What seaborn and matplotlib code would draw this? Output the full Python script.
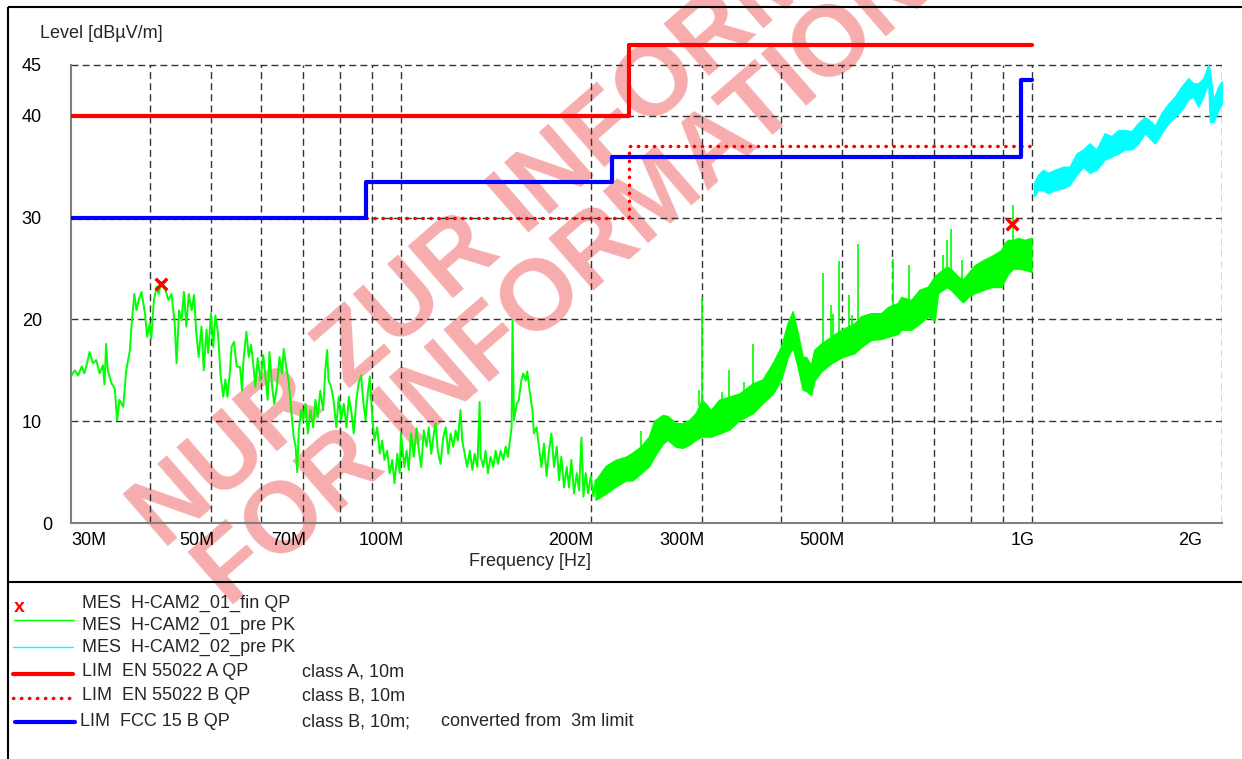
import matplotlib
matplotlib.use("Agg")
import matplotlib.pyplot as plt
import matplotlib.transforms as mtransforms
from matplotlib.patches import Rectangle
from matplotlib.ticker import NullLocator
import seaborn as sns

# ---- data (frequencies in MHz, levels in dBuV/m) ----
# pre-scan PK, 30 - 207 MHz (single noisy trace)
green_f = [30.0, 30.4, 30.8, 31.2, 31.5, 31.9, 32.1, 32.5, 32.9, 33.3,
           33.7, 33.9, 34.1, 34.3, 34.8, 35.2, 35.5, 35.8, 36.3, 36.7,
           37.2, 37.4, 37.8, 38.1, 38.4, 38.8, 39.3, 39.6, 40.0, 40.2,
           40.6, 41.0, 41.3, 41.7, 42.3, 42.8, 43.3, 43.8, 44.1, 44.5,
           44.9, 45.3, 45.7, 46.1, 46.6, 47.0, 47.4, 47.8, 48.3, 48.7,
           49.2, 49.5, 50.0, 50.4, 50.8, 51.3, 51.8, 52.3, 52.7, 53.1,
           53.6, 53.9, 54.4, 54.9,
           55.6, 56.0, 56.3, 56.9, 57.4, 57.9, 58.4, 58.8, 59.3, 59.9,
           60.5, 61.0, 61.5, 61.9, 62.5, 63.0, 63.6, 64.2, 64.8, 65.2,
           65.8, 66.4, 67.0, 67.6, 68.1, 68.5, 68.9, 69.5, 70.0, 70.6,
           71.2, 71.9, 72.6, 73.2, 73.8, 74.5, 75.3, 75.9, 76.4, 76.8,
           77.5, 78.2, 79.0, 79.7, 80.4, 81.2, 82.0, 82.7, 83.4, 84.2,
           85.0, 85.7, 86.5, 87.1, 87.9, 88.6, 89.3, 90.0, 90.8, 91.7,
           92.6, 93.4, 94.2, 95.1, 96.0, 96.9, 97.7, 98.7, 99.6, 100.0,
           101.3, 102.1, 102.9, 103.8, 104.8, 105.9, 106.8, 107.7, 108.7, 109.8,
           110.7, 111.7, 112.8, 113.5, 114.4, 115.6, 116.7, 117.8, 118.9, 119.9,
           121.1, 122.1, 123.1, 124.3, 125.1, 126.2, 127.4, 128.6, 129.8, 130.9,
           132.2, 133.3, 133.8, 135.1, 136.2, 137.4, 138.7, 140.1, 141.3, 142.5,
           143.9, 145.3, 146.6, 147.8, 148.9, 149.8, 150.3, 151.1, 152.6, 153.8,
           155.2, 156.3, 157.7, 158.6, 160.2, 161.6, 162.5, 164.1, 165.5, 167.0,
           168.6, 170.2, 171.7, 173.2, 174.9, 176.6, 178.1, 179.6, 181.4, 183.2,
           184.7, 186.3, 188.1, 190.0, 191.6, 193.3, 194.7, 196.3, 198.0, 200.0,
           201.9, 203.6, 205.4, 206.9]
green_db = [14.4, 15.0, 14.5, 15.4, 14.7, 16.0, 16.8, 15.7, 16.0, 14.7,
            15.5, 13.6, 17.6, 15.0, 13.7, 13.2, 10.1, 12.1, 11.4, 15.0,
            17.0, 19.3, 22.5, 20.9, 21.9, 22.7, 20.6, 18.3, 19.6, 18.1,
            21.9, 23.2, 22.5, 23.7, 23.0, 21.9, 22.5, 19.6, 15.7, 20.9,
            19.9, 22.7, 19.3, 22.5, 20.9, 22.4, 18.6, 16.3, 19.3, 15.0,
            19.0, 16.7, 20.6, 17.3, 20.4, 18.6, 14.4, 12.4, 14.1, 12.4,
            15.0, 17.3, 17.8, 15.4,
            15.3, 13.0, 16.0, 18.8, 16.3, 17.5, 15.3, 13.4, 16.2, 14.0,
            16.5, 14.4, 12.1, 16.8, 13.4, 11.7, 13.4, 16.3, 14.7, 17.1,
            15.3, 14.0, 11.1, 8.5, 7.5, 5.0, 9.1, 11.1, 10.1, 11.7,
            8.8, 11.1, 9.4, 12.1, 10.4, 13.0, 11.1, 15.0, 17.0, 14.0,
            13.4, 12.1, 9.4, 12.4, 10.1, 11.7, 9.4, 12.4, 11.1, 8.8,
            12.1, 13.7, 14.5, 12.1, 10.1, 12.7, 14.4, 10.8, 8.1, 9.4,
            6.8, 8.1, 6.2, 7.1, 4.9, 6.2, 3.9, 6.8, 4.9, 8.8,
            5.5, 7.1, 5.2, 8.8, 6.5, 9.3, 7.1, 5.5, 9.1, 7.5,
            9.4, 6.8, 8.8, 9.8, 7.1, 5.8, 8.4, 9.4, 6.8, 8.8,
            7.5, 9.1, 8.1, 11.1, 8.1, 6.8, 5.5, 7.1, 5.2, 6.8,
            5.5, 11.9, 6.5, 5.5, 7.1, 4.9, 6.5, 5.5, 7.1, 5.8,
            7.1, 6.2, 7.5, 6.5, 8.1, 9.4, 19.9, 10.1, 11.7, 12.1,
            14.0, 14.7, 14.0, 14.9, 12.7, 11.1, 8.8, 9.4, 7.5, 5.5,
            7.8, 4.6, 7.1, 8.8, 5.5, 7.5, 4.2, 6.5, 3.5, 5.5,
            3.5, 6.2, 2.9, 4.9, 3.2, 8.4, 2.6, 4.9, 2.9, 4.6,
            2.6, 4.2, 2.9, 4.6]

# pre-scan PK, 200 MHz - 1 GHz (dense noise band: lower / upper edge)
band_f = [203.6, 211.2, 219.1, 227.2, 232.9, 240.0, 247.4, 252.0, 259.9, 264.6,
          272.8, 279.6, 286.4, 293.5, 300.0, 310.0, 319.6, 331.5, 343.8, 361.1,
          374.5, 388.5, 400.4, 410.3, 417.9, 425.6, 433.5, 438.7, 446.8, 452.2,
          463.4, 480.7, 500.0, 523.4, 536.4, 556.4, 577.1, 591.4, 613.4, 620.9,
          644.0, 663.8, 684.5, 701.2, 710.0, 733.7, 745.4, 763.8, 777.9, 792.3,
          811.6, 836.9, 862.7, 894.8, 905.7, 917.0, 933.9, 951.1, 974.4, 998.5]
band_lo = [2.3, 2.9, 3.6, 4.2, 4.2, 4.9, 5.6, 6.5, 7.8, 8.2,
           7.5, 7.4, 7.7, 8.2, 8.5, 8.5, 8.8, 9.2, 10.1, 10.8,
           11.8, 12.7, 14.1, 16.3, 17.3, 15.4, 13.1, 13.0, 12.6, 14.0,
           14.9, 15.7, 16.3, 16.7, 17.3, 18.0, 18.1, 18.3, 18.6, 19.0,
           19.0, 19.6, 20.3, 19.9, 22.6, 23.2, 22.9, 22.2, 21.7, 22.2,
           22.6, 22.9, 23.2, 23.2, 23.9, 24.5, 25.0, 25.0, 24.9, 24.7]
band_hi = [4.2, 5.6, 6.2, 6.5, 6.9, 7.5, 8.5, 10.0, 10.6, 10.5,
           9.8, 9.8, 10.1, 10.8, 12.1, 11.1, 12.1, 12.4, 12.7, 13.7,
           14.1, 15.7, 17.3, 19.6, 20.8, 18.6, 16.3, 16.3, 15.5, 17.0,
           17.6, 18.3, 19.0, 19.6, 20.3, 20.6, 20.6, 21.2, 21.6, 22.2,
           21.9, 22.9, 23.2, 24.2, 24.5, 25.2, 24.9, 24.2, 23.9, 24.5,
           25.3, 25.8, 26.2, 26.8, 27.5, 27.8, 27.8, 28.0, 27.8, 28.0]

# narrow spikes on top of the band
spike_f = [240.0, 297.1, 300.0, 322.7, 331.5, 350.3, 361.1, 466.4, 479.8, 483.5,
           495.1, 513.4, 518.7, 530.5, 603.4, 639.8, 722.3, 733.7, 745.4, 775.1,
           933.9]
spike_base = [7.5, 11.5, 12.0, 12.1, 12.4, 13.0, 13.7, 17.6, 18.3, 18.3,
              18.8, 19.3, 19.5, 19.9, 21.4, 22.0, 24.8, 25.2, 24.9, 23.9,
              27.8]
spike_top = [9.0, 13.1, 22.2, 12.9, 15.0, 13.9, 17.6, 24.6, 21.4, 20.5,
             25.7, 22.4, 20.4, 27.4, 25.9, 25.3, 26.3, 27.8, 28.9, 25.8,
             31.2]

# second pre-scan PK, 1 - 2 GHz
cyan_f = [1008, 1023, 1042, 1061, 1087, 1121, 1148, 1177, 1206, 1235,
          1266, 1305, 1337, 1371, 1404, 1439, 1475, 1511, 1548, 1567,
          1606, 1646, 1686, 1728, 1770, 1803, 1836, 1870, 1904, 1916,
          1940, 1976, 2000]
cyan_lo = [32.1, 32.7, 32.7, 32.4, 32.7, 32.9, 33.2, 34.2, 35.0, 34.4,
           34.7, 35.7, 36.0, 36.3, 36.7, 36.7, 37.3, 38.3, 37.6, 37.3,
           38.3, 39.3, 39.9, 40.6, 41.6, 41.9, 40.9, 41.9, 43.2, 39.4,
           39.4, 40.6, 41.2]
cyan_hi = [33.4, 34.2, 34.7, 34.4, 34.7, 35.0, 35.0, 36.3, 36.7, 37.3,
           36.7, 38.3, 38.0, 38.6, 38.6, 38.5, 39.3, 39.9, 39.4, 39.0,
           40.3, 41.2, 41.9, 42.9, 43.7, 43.2, 43.2, 43.7, 45.0, 44.5,
           41.6, 42.9, 43.4]

# final QP measurements
fin_f = [41.6, 930.0]
fin_db = [23.5, 29.4]

# limit lines (step at each listed frequency)
lim_a_f = [30, 230, 1000]
lim_a_db = [40, 47, 47]
lim_b_f = [30, 230, 1000]
lim_b_db = [30, 37, 37]
fcc_f = [30, 88, 216, 960, 1000]
fcc_db = [30, 33.5, 36, 43.5, 43.5]

xtick_vals = [30, 50, 70, 100, 200, 300, 500, 1000, 2000]
xtick_labels = ["30M", "50M", "70M", "100M", "200M", "300M", "500M", "1G", "2G"]
ytick_vals = [0, 10, 20, 30, 40, 45]
grid_f = [40, 50, 60, 70, 80, 90, 100, 200, 300, 400, 500, 600, 700, 800, 900, 1000, 2000]
grid_db = [10, 20, 30, 40, 45]

GREEN = "#00ff00"
CYAN = "#00ffff"
RED = "#ff0000"
BLUE = "#0000ff"
DOTS = (0, (0.1, 2.2))

sns.set_theme(style="white")
plt.rcParams["font.family"] = ["Liberation Sans", "DejaVu Sans"]

fig = plt.figure(figsize=(12.42, 7.59), dpi=100)

# overlay in pixel units: frame, watermark and legend block
ov = fig.add_axes([0, 0, 1, 1])
ov.set_xlim(0, 1242)
ov.set_ylim(759, 0)
ov.axis("off")
ov.set_zorder(0)

ax = fig.add_axes([71 / 1242, (759 - 523) / 759, 1150.7 / 1242, 514 / 759])
ax.set_zorder(1)
ax.patch.set_alpha(0)

# watermark
wm = dict(rotation=41, rotation_mode="anchor", ha="left", va="baseline",
          fontsize=72, fontweight="bold", color="#f7adad", zorder=0)
ov.text(163, 550, "NUR ZUR INFORMATION", **wm)
ov.text(228, 608, "FOR INFORMATION", **wm)

# frame + separator
ov.add_patch(Rectangle((8, 7), 1250, 770, fill=False, ec="black", lw=1.5))
ov.axhline(582, xmin=8 / 1242, color="black", lw=1.5)

# grid
ax.hlines(grid_db, 30, 2000, colors="#333333", linestyles=(0, (5, 3)), lw=1, zorder=1.5)
ax.vlines(grid_f, 0, 45, colors="#333333", linestyles=(0, (5, 3)), lw=1, zorder=1.5)

# measurements
sns.lineplot(x=green_f, y=green_db, ax=ax, color=GREEN, lw=1.4, sort=False,
             estimator=None, zorder=2)
ax.fill_between(band_f, band_lo, band_hi, color=GREEN, ec=GREEN, lw=1.2, zorder=2)
ax.vlines(spike_f, spike_base, spike_top, colors=GREEN, lw=1.2, zorder=2)
ax.fill_between(cyan_f, cyan_lo, cyan_hi, color=CYAN, ec=CYAN, lw=1, zorder=2)

# limits
sns.lineplot(x=lim_b_f, y=lim_b_db, ax=ax, color=RED, lw=2.5, drawstyle="steps-post",
             linestyle=DOTS, dash_capstyle="round", estimator=None, zorder=3)
sns.lineplot(x=fcc_f, y=fcc_db, ax=ax, color=BLUE, lw=3, drawstyle="steps-post",
             estimator=None, zorder=3)
sns.lineplot(x=lim_a_f, y=lim_a_db, ax=ax, color=RED, lw=3, drawstyle="steps-post",
             estimator=None, zorder=3)

sns.scatterplot(x=fin_f, y=fin_db, ax=ax, marker="x", color=RED, s=70,
                linewidth=2.5, zorder=5)

ax.set_xscale("log")
ax.set_xlim(30, 2000)
ax.set_ylim(0, 50.5)
ax.set_xticks(xtick_vals)
ax.set_xticklabels(xtick_labels)
ax.xaxis.set_minor_locator(NullLocator())
ax.set_yticks(ytick_vals)
ax.tick_params(axis="both", length=0, labelsize=13, colors="black")
ax.tick_params(axis="y", pad=21)
ax.tick_params(axis="x", pad=6.5)

# label placement as in the original
for lab in ax.get_xticklabels():
    txt = lab.get_text()
    if txt == "30M":
        lab.set_ha("left")
        dx = 0
    elif txt == "2G":
        lab.set_ha("right")
        dx = -20
    else:
        lab.set_ha("right")
        dx = 3
    lab.set_transform(lab.get_transform() +
                      mtransforms.ScaledTranslation(dx / 100, 0, fig.dpi_scale_trans))
for lab in ax.get_yticklabels():
    if lab.get_text() == "0":
        lab.set_transform(lab.get_transform() +
                          mtransforms.ScaledTranslation(11 / 100, 0, fig.dpi_scale_trans))

for s in ["top", "right"]:
    ax.spines[s].set_visible(False)
for s in ["left", "bottom"]:
    ax.spines[s].set_color("#808080")
    ax.spines[s].set_linewidth(1.5)
ax.spines["left"].set_bounds(0, 45)
ax.spines["bottom"].set_bounds(30, 2000)

ax.set_xlabel("Frequency [Hz]", fontsize=13)
ax.xaxis.set_label_coords((530 - 71) / 1150.7, (523 - 562) / 514)
ax.xaxis.label.set_va("center")
ax.set_ylabel("Level [dBµV/m]", fontsize=13, rotation=0, ha="left", va="center")
ax.yaxis.set_label_coords((40 - 71) / 1150.7, (523 - 33) / 514)

# legend block
fs = 13
ov.text(14, 607, "x", color=RED, fontsize=14, fontweight="bold", va="center")
ov.plot([14, 74], [620, 620], color=GREEN, lw=1)
ov.plot([13, 73], [647, 647], color=CYAN, lw=1)
ov.plot([13, 73], [674, 674], color=RED, lw=3)
ov.plot([13, 73], [698, 698], color=RED, lw=2.5, linestyle=DOTS, dash_capstyle="round")
ov.plot([15, 75], [722, 722], color=BLUE, lw=3)
ov.text(82, 603, "MES  H-CAM2_01_fin QP", fontsize=fs, va="center")
ov.text(82, 625, "MES  H-CAM2_01_pre PK", fontsize=fs, va="center")
ov.text(82, 647, "MES  H-CAM2_02_pre PK", fontsize=fs, va="center")
ov.text(82, 672, "LIM  EN 55022 A QP", fontsize=fs, va="center")
ov.text(302, 672, "class A, 10m", fontsize=fs, va="center")
ov.text(82, 696, "LIM  EN 55022 B QP", fontsize=fs, va="center")
ov.text(302, 696, "class B, 10m", fontsize=fs, va="center")
ov.text(80, 722, "LIM  FCC 15 B QP", fontsize=fs, va="center")
ov.text(302, 722, "class B, 10m;", fontsize=fs, va="center")
ov.text(441, 722, "converted from  3m limit", fontsize=fs, va="center")

fig.savefig("out.png", dpi=100)
